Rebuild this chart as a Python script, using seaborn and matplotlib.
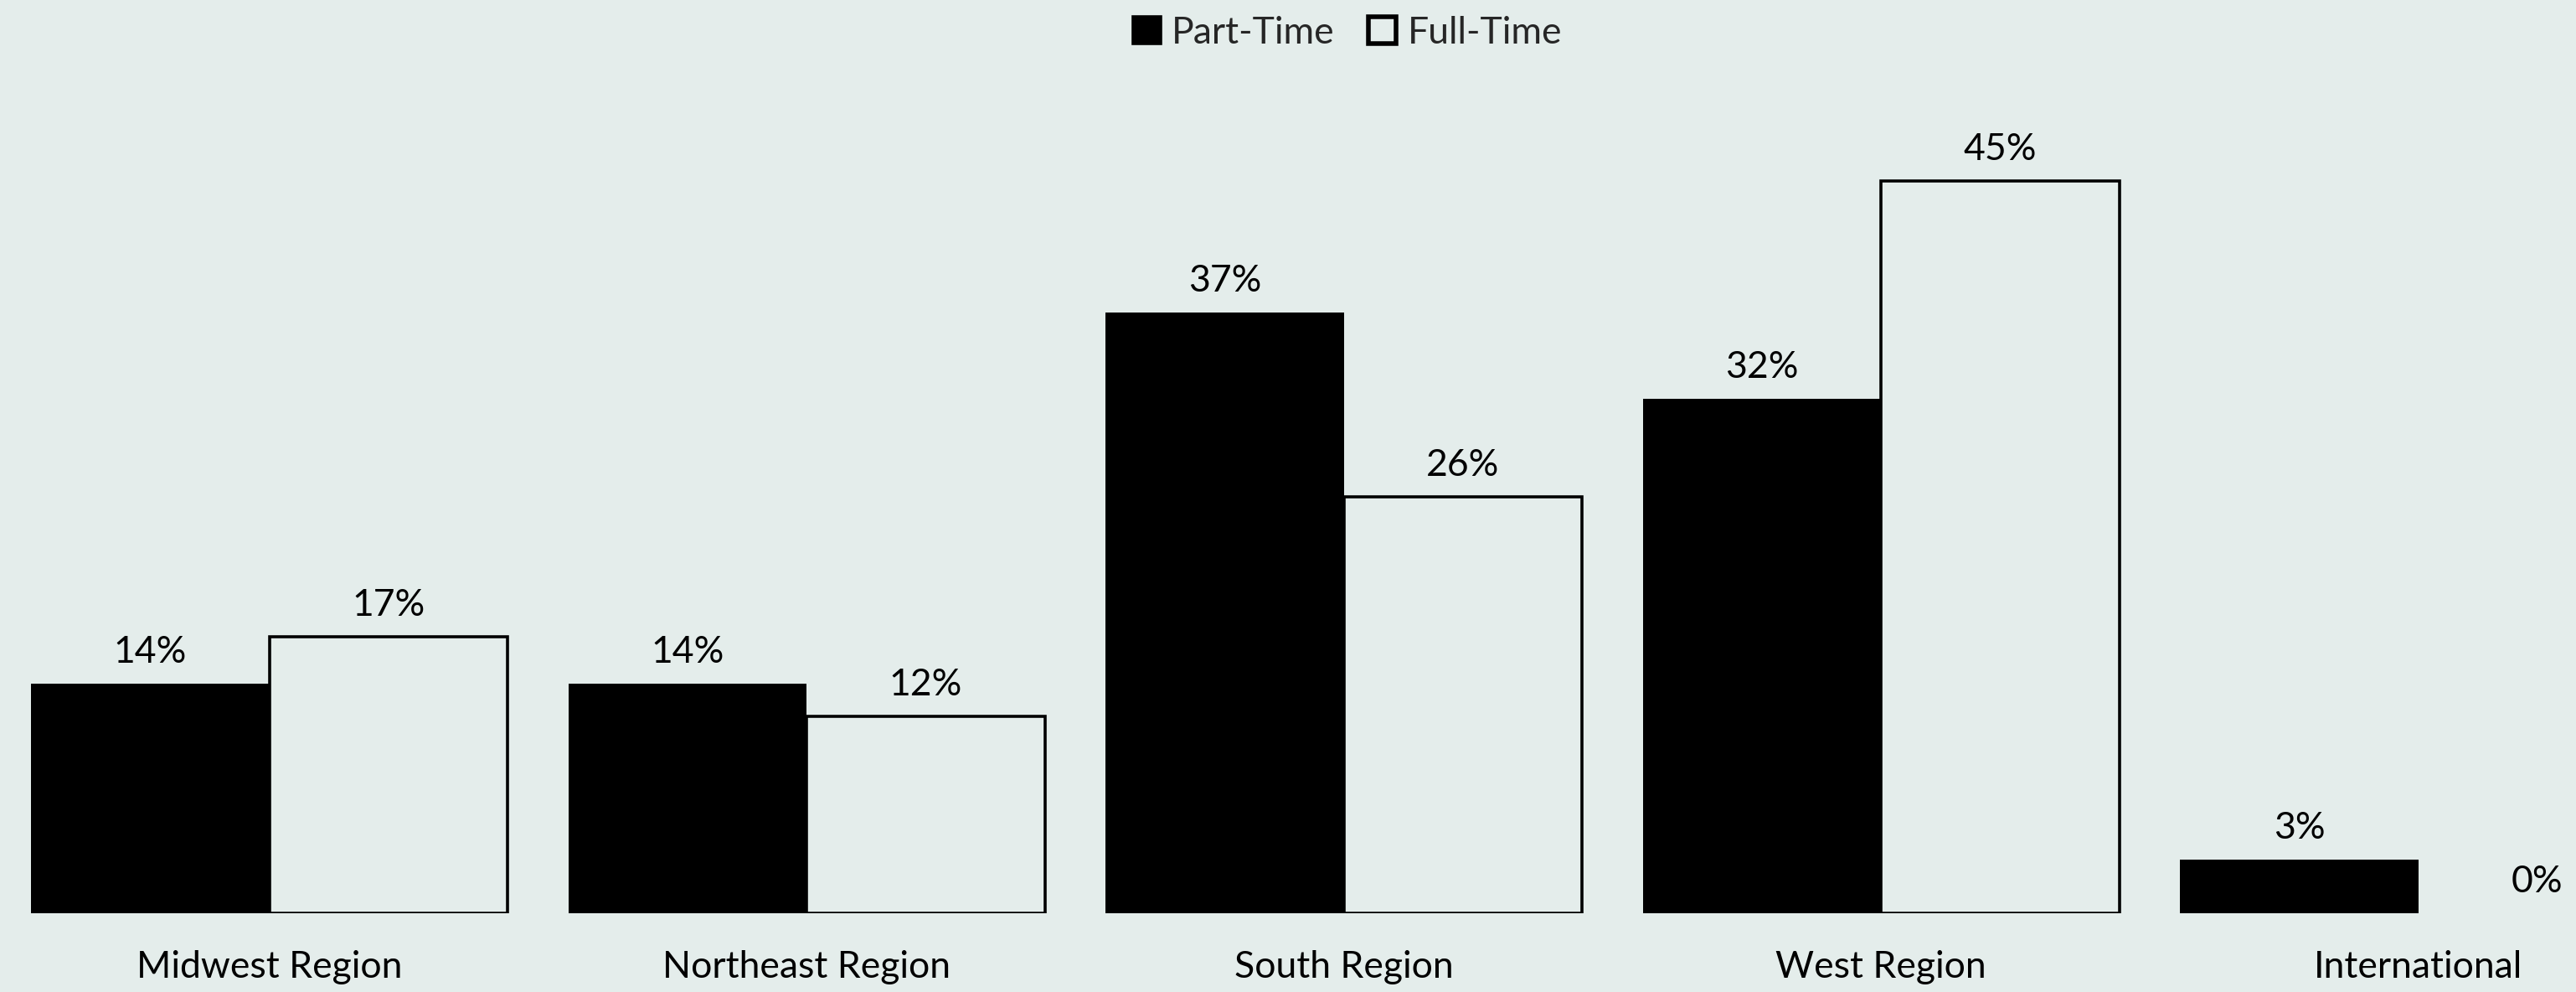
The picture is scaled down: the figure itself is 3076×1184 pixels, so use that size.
import numpy as np
import pandas as pd
import matplotlib
matplotlib.use('Agg')
import matplotlib.pyplot as plt
from matplotlib.patches import Patch
import seaborn as sns

# data
regions = ['Midwest Region', 'Northeast Region', 'South Region', 'West Region', 'International']
part_time = [14.1, 14.1, 36.9, 31.6, 3.3]
full_time = [17.0, 12.1, 25.6, 45.0, 0.0]
series = ['Part-Time', 'Full-Time']

bg = '#e4edeb'

df = pd.DataFrame({
    'region': regions * 2,
    'pct': part_time + full_time,
    'type': [series[0]] * len(regions) + [series[1]] * len(regions),
})

sns.set_style('white')
plt.rcParams['font.family'] = ['Lato', 'DejaVu Sans']

fig = plt.figure(figsize=(15.38, 5.92), dpi=200, facecolor=bg)
ax = fig.add_axes([0, 1 - 556 / 604, 1, (556 - 60) / 604])
ax.set_facecolor(bg)

sns.barplot(data=df, x='region', y='pct', hue='type', hue_order=series,
            order=regions, width=0.887, ax=ax, legend=False)

# style bars: part-time solid black, full-time outlined
for p in ax.containers[0]:
    p.set_facecolor('black')
    p.set_edgecolor('black')
    p.set_linewidth(0)
for p in ax.containers[1]:
    p.set_facecolor(bg)
    p.set_edgecolor('black')
    p.set_linewidth(1.3)
    if p.get_height() == 0:
        p.set_linewidth(0)

# value labels
for cont in ax.containers:
    for p in cont:
        h = p.get_height()
        ax.annotate(f"{h:.0f}%", (p.get_x() + p.get_width() / 2, h),
                    xytext=(0, 6), textcoords='offset points',
                    ha='center', va='bottom', fontsize=16, color='black')

ax.set_xlim(-0.5015, 4.2936)
ax.set_ylim(0, 50.05)
ax.set_xlabel('')
ax.set_ylabel('')
ax.set_yticks([])
ax.tick_params(axis='x', length=0, pad=16, labelsize=16, colors='black')
for s in ax.spines.values():
    s.set_visible(False)

handles = [Patch(facecolor='black', edgecolor='black', linewidth=1.3),
           Patch(facecolor=bg, edgecolor='black', linewidth=2)]
fig.legend(handles, series, loc='center', bbox_to_anchor=(0.523, 1 - 20 / 604),
           ncol=2, frameon=False, fontsize=16, handlelength=0.75, handleheight=0.75,
           handletextpad=0.3, columnspacing=0.9)

plt.savefig('out.png', dpi=200, facecolor=bg)
